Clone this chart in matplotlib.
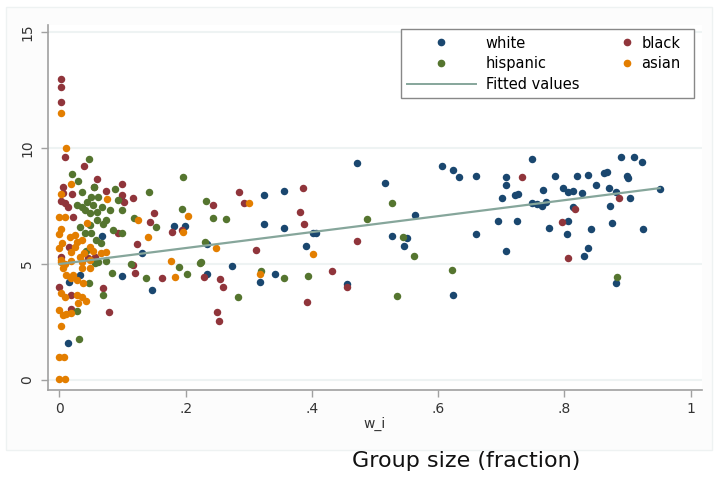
import matplotlib
matplotlib.use("Agg")
import matplotlib.pyplot as plt
from matplotlib.lines import Line2D
from matplotlib.patches import Rectangle

# group size (fraction) and outcome
white_x = [0.748, 0.708, 0.707, 0.701, 0.721, 0.727, 0.695, 0.725, 0.708, 0.785,
           0.766, 0.748, 0.756, 0.764, 0.771, 0.776, 0.797, 0.805, 0.814, 0.828,
           0.820, 0.837, 0.813, 0.805, 0.804, 0.842, 0.837, 0.831, 0.850, 0.862,
           0.867, 0.870, 0.881, 0.873, 0.876, 0.899, 0.900, 0.889, 0.911, 0.923,
           0.904, 0.924, 0.951, 0.882, 0.472, 0.516, 0.606, 0.623, 0.633, 0.660,
           0.563, 0.401, 0.406, 0.390, 0.527, 0.550, 0.546, 0.660, 0.456, 0.624,
           0.099, 0.130, 0.147, 0.181, 0.199, 0.234, 0.273, 0.324, 0.356, 0.324,
           0.356, 0.318, 0.342, 0.234, 0.098, 0.067, 0.032, 0.015, 0.013]
white_y = [9.53, 8.76, 8.41, 7.83, 7.97, 8.02, 6.85, 6.87, 5.57, 8.81,
           8.19, 7.64, 7.59, 7.50, 7.69, 6.57, 8.26, 8.12, 8.15, 8.07,
           8.79, 8.85, 7.47, 6.87, 6.29, 6.49, 5.70, 5.36, 8.41, 8.94,
           8.98, 8.26, 8.12, 7.50, 6.78, 8.79, 8.71, 9.63, 9.60, 9.40,
           7.83, 6.49, 8.22, 4.19, 9.34, 8.48, 9.22, 9.05, 8.74, 8.78,
           7.13, 6.32, 6.35, 5.78, 6.21, 6.11, 5.78, 6.28, 4.14, 3.66,
           4.48, 5.49, 3.88, 6.65, 6.65, 4.57, 4.91, 7.97, 8.15, 6.72,
           6.53, 4.24, 4.55, 5.86, 7.78, 6.21, 4.53, 4.24, 1.61]

black_x = [0.733, 0.816, 0.796, 0.805, 0.887, 0.386, 0.381, 0.387, 0.471, 0.432,
           0.456, 0.392, 0.099, 0.099, 0.102, 0.116, 0.150, 0.143, 0.178, 0.194,
           0.123, 0.117, 0.120, 0.162, 0.243, 0.284, 0.292, 0.229, 0.255, 0.259,
           0.249, 0.253, 0.311, 0.002, 0.002, 0.002, 0.009, 0.039, 0.060, 0.006,
           0.006, 0.055, 0.073, 0.020, 0.003, 0.008, 0.013, 0.021, 0.015, 0.056,
           0.045, 0.003, 0.000, 0.018, 0.018, 0.069, 0.078, 0.093]
black_y = [8.76, 7.36, 6.82, 5.27, 7.83, 8.26, 7.23, 6.72, 5.99, 4.71,
           4.00, 3.35, 8.44, 7.97, 7.69, 7.83, 7.18, 6.82, 6.39, 6.47,
           5.85, 4.96, 4.63, 4.38, 7.54, 8.12, 7.61, 4.45, 4.35, 4.00,
           2.94, 2.56, 5.60, 12.97, 12.64, 11.97, 9.63, 9.22, 8.65, 8.31,
           8.05, 8.31, 8.16, 8.02, 7.73, 7.64, 7.47, 7.04, 5.72, 5.32,
           5.24, 5.32, 4.02, 3.66, 3.05, 3.95, 2.94, 6.32]

hisp_x = [0.883, 0.527, 0.487, 0.545, 0.561, 0.393, 0.534, 0.622, 0.195, 0.142,
          0.099, 0.118, 0.153, 0.099, 0.194, 0.232, 0.244, 0.264, 0.231, 0.113,
          0.137, 0.190, 0.202, 0.224, 0.223, 0.283, 0.320, 0.356, 0.047, 0.020,
          0.030, 0.035, 0.088, 0.050, 0.044, 0.061, 0.027, 0.035, 0.053, 0.067,
          0.093, 0.040, 0.048, 0.060, 0.080, 0.060, 0.069, 0.074, 0.048, 0.032,
          0.085, 0.040, 0.050, 0.058, 0.066, 0.042, 0.061, 0.074, 0.056, 0.046,
          0.028, 0.031, 0.083, 0.069, 0.054]
hisp_y = [4.43, 7.65, 6.94, 6.15, 5.36, 4.50, 3.63, 4.74, 8.76, 8.12,
          7.33, 7.00, 6.61, 6.32, 7.37, 7.72, 7.00, 6.94, 5.96, 4.99,
          4.41, 4.86, 4.57, 5.10, 5.03, 3.59, 4.71, 4.38, 9.51, 8.88,
          8.59, 8.12, 8.22, 7.90, 7.69, 7.87, 7.54, 7.47, 7.54, 7.47,
          7.76, 7.33, 7.18, 7.25, 7.33, 6.90, 6.72, 6.90, 6.68, 6.61,
          6.47, 6.32, 6.35, 6.03, 5.92, 5.57, 5.10, 5.14, 5.06, 4.16,
          2.99, 1.77, 4.63, 3.66, 8.33]

asian_x = [0.401, 0.125, 0.141, 0.204, 0.196, 0.177, 0.183, 0.248, 0.301, 0.317,
           0.003, 0.011, 0.019, 0.003, 0.076, 0.000, 0.008, 0.044, 0.003, 0.000,
           0.016, 0.024, 0.027, 0.035, 0.004, 0.000, 0.019, 0.024, 0.049, 0.053,
           0.066, 0.074, 0.032, 0.039, 0.003, 0.008, 0.003, 0.019, 0.035, 0.048,
           0.006, 0.011, 0.021, 0.035, 0.048, 0.019, 0.027, 0.037, 0.003, 0.008,
           0.027, 0.035, 0.042, 0.029, 0.000, 0.006, 0.011, 0.019, 0.003, 0.000,
           0.007, 0.000, 0.009]
asian_y = [5.42, 6.90, 6.15, 7.08, 6.39, 5.14, 4.45, 5.70, 7.64, 4.57,
           11.49, 9.99, 8.45, 8.02, 7.78, 7.04, 7.04, 6.78, 6.49, 6.29,
           6.15, 6.25, 5.96, 6.03, 5.89, 5.68, 5.53, 5.72, 5.72, 5.57,
           5.46, 5.53, 5.32, 5.46, 5.17, 5.00, 5.10, 5.14, 5.10, 5.17,
           4.81, 4.53, 4.53, 4.81, 4.81, 4.38, 4.31, 4.16, 3.74, 3.59,
           3.66, 3.59, 3.42, 3.31, 3.02, 2.80, 2.84, 2.87, 2.34, 0.98,
           0.98, 0.03, 0.03]

# linear fit, end points
fit_x = [0.0, 0.951]
fit_y = [5.0, 8.27]

xticks = [0, 0.2, 0.4, 0.6, 0.8, 1]
xtick_labels = ["0", ".2", ".4", ".6", ".8", "1"]
yticks = [0, 5, 10, 15]

c_white = "#1a476f"
c_black = "#90353b"
c_hisp = "#55752f"
c_asian = "#e37e00"
c_fit = "#86a69b"

fig = plt.figure(figsize=(7.14, 4.8), dpi=100)
fig.patch.set_facecolor("white")
# faint graph region like the stata export
fig.patches.append(Rectangle((6 / 714, 1 - 450 / 480), 706 / 714, 443 / 480,
                             transform=fig.transFigure, facecolor="#fcfcfc",
                             edgecolor="#eef2f2", lw=1, zorder=-10))

ax = fig.add_axes([48 / 714, 1 - 390 / 480, 654 / 714, 365 / 480])
ax.set_facecolor("white")

ms = 29
ax.scatter(white_x, white_y, s=ms, color=c_white, lw=0, zorder=3)
ax.scatter(black_x, black_y, s=ms, color=c_black, lw=0, zorder=3)
ax.scatter(hisp_x, hisp_y, s=ms, color=c_hisp, lw=0, zorder=3)
ax.scatter(asian_x, asian_y, s=ms, color=c_asian, lw=0, zorder=3)
ax.plot(fit_x, fit_y, color=c_fit, lw=1.6, zorder=4)

ax.set_xlim(-0.0182, 1.018)
ax.set_ylim(-0.43, 15.3)

for v in yticks:
    ax.axhline(v, color="#eef3f3", lw=1.5, zorder=1)

ax.set_xticks(xticks)
ax.set_xticklabels(xtick_labels)
ax.set_yticks(yticks)
ax.set_yticklabels([str(v) for v in yticks], rotation=90, va="center")

for side in ["top", "right"]:
    ax.spines[side].set_visible(False)
for side in ["left", "bottom"]:
    ax.spines[side].set_color("#a0a0a0")
    ax.spines[side].set_linewidth(1.2)
ax.tick_params(colors="#a0a0a0", labelcolor="#333333", labelsize=10,
               length=5, width=1)
ax.tick_params(axis="y", pad=5)

ax.set_xlabel("w_i", fontsize=10, color="#333333", labelpad=1)

# legend: stata style, two separate columns
h_white = Line2D([], [], marker="o", ls="", color=c_white, markersize=4.5)
h_black = Line2D([], [], marker="o", ls="", color=c_black, markersize=4.5)
h_hisp = Line2D([], [], marker="o", ls="", color=c_hisp, markersize=4.5)
h_asian = Line2D([], [], marker="o", ls="", color=c_asian, markersize=4.5)
h_fit = Line2D([], [], color=c_fit, lw=1.4)

leg1 = ax.legend(handles=[h_white, h_hisp, h_fit],
                 labels=["white", "hispanic", "Fitted values"],
                 loc="upper left", bbox_to_anchor=(0.539, 0.797, 0.449, 0.192),
                 mode="expand", borderaxespad=0, fontsize=10.5,
                 handlelength=4.7, handletextpad=0.7, labelspacing=0.38,
                 borderpad=0.45, fancybox=False, framealpha=1,
                 edgecolor="#888888")
leg1.get_frame().set_linewidth(1.0)
ax.add_artist(leg1)

leg2 = ax.legend(handles=[h_black, h_asian], labels=["black", "asian"],
                 loc="upper left", bbox_to_anchor=(0.864, 0.989),
                 borderaxespad=0, fontsize=10.5, handlelength=1.0,
                 handletextpad=0.5, labelspacing=0.38, borderpad=0.45,
                 frameon=False)

fig.text(466 / 714, (480 - 461) / 480, "Group size (fraction)", fontsize=16,
         ha="center", va="center", color="#111111")

fig.savefig("out.png", dpi=100, facecolor=fig.get_facecolor())
